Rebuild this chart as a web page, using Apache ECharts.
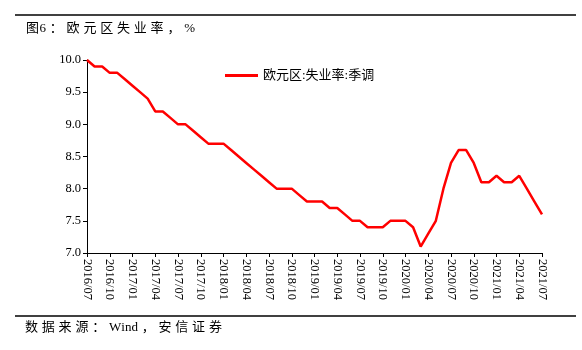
<!DOCTYPE html>
<html><head><meta charset="utf-8">
<script src="https://cdn.jsdelivr.net/npm/echarts@6/dist/echarts.min.js"></script>
<style>html,body{margin:0;padding:0;background:#fff}#c{width:582px;height:350px}</style>
</head><body><div id="c"></div>
<script>
const categories = [];
(function(){let y=2016,m=7;for(let i=0;i<61;i++){categories.push(y+'/'+(m<10?'0'+m:m));m++;if(m>12){m=1;y++;}}})();
const unemployment = [10.0,9.9,9.9,9.8,9.8,9.7,9.6,9.5,9.4,9.2,9.2,9.1,9.0,9.0,8.9,8.8,8.7,8.7,8.7,8.6,8.5,8.4,8.3,8.2,8.1,8.0,8.0,8.0,7.9,7.8,7.8,7.8,7.7,7.7,7.6,7.5,7.5,7.4,7.4,7.4,7.5,7.5,7.5,7.4,7.1,7.3,7.5,8.0,8.4,8.6,8.6,8.4,8.1,8.1,8.2,8.1,8.1,8.2,8.0,7.8,7.6];
const seriesName = '欧元区:失业率:季调';
const titleText = '图6：欧元区失业率，%';
const sourceText = '数据来源：Wind，安信证券';

const serif = '"Liberation Serif","DejaVu Serif",serif';
const cjk = '"Liberation Serif","Noto Sans CJK SC",serif';

// spaced text layout (letter-spaced caption like the reference)
const mctx = document.createElement('canvas').getContext('2d');
function spacedText(str, x0, y, size, gap){
  const font = size+'px '+cjk;
  mctx.font = font;
  const out = [];
  let x = x0;
  const chars = Array.from(str);
  chars.forEach((ch,i)=>{
    out.push({type:'text',x:x,y:y,style:{text:ch,font:font,fill:'#000',textVerticalAlign:'middle'}});
    const next = chars[i+1];
    const isAscii = c => /[A-Za-z0-9]/.test(c);
    let g = gap;
    if (next && isAscii(ch) && isAscii(next)) g = 0;
    if (ch==='图' && next==='6') g = 0.5;
    x += mctx.measureText(ch).width + g;
  });
  return out;
}

const chart = echarts.init(document.getElementById('c'), null, {renderer:'canvas'});
chart.setOption({
  animation:false,
  backgroundColor:'#fff',
  grid:{left:87,right:40,top:60,bottom:97,containLabel:false},
  legend:{
    data:[seriesName], left:220, top:64, itemWidth:33, itemHeight:3, itemGap:5,
    icon:'rect',
    textStyle:{fontFamily:cjk,fontSize:13,color:'#000'}
  },
  xAxis:{
    type:'category', data:categories, boundaryGap:false,
    axisLine:{lineStyle:{color:'#000',width:1}},
    axisTick:{interval:2,length:4,lineStyle:{color:'#000'}},
    axisLabel:{interval:2,rotate:-90,fontFamily:serif,fontSize:12.5,color:'#000',margin:6}
  },
  yAxis:{
    type:'value', min:7, max:10, interval:0.5,
    axisLine:{show:true,lineStyle:{color:'#000',width:1}},
    axisTick:{show:true,length:4,lineStyle:{color:'#000'}},
    splitLine:{show:false},
    axisLabel:{formatter:v=>v.toFixed(1),fontFamily:serif,fontSize:12.5,color:'#000',margin:6}
  },
  series:[{
    name:seriesName, type:'line', data:unemployment, symbol:'none',
    lineStyle:{color:'#ff0000',width:2.5}, itemStyle:{color:'#ff0000'}
  }],
  graphic:[
    {type:'line',shape:{x1:15,y1:15,x2:576,y2:15},style:{stroke:'#000',lineWidth:1.5}},
    {type:'line',shape:{x1:15,y1:316,x2:576,y2:316},style:{stroke:'#000',lineWidth:1.5}}
  ].concat(spacedText(titleText,26,29,13,3.8)).concat(spacedText(sourceText,25,328,13,3.8))
});
</script></body></html>
